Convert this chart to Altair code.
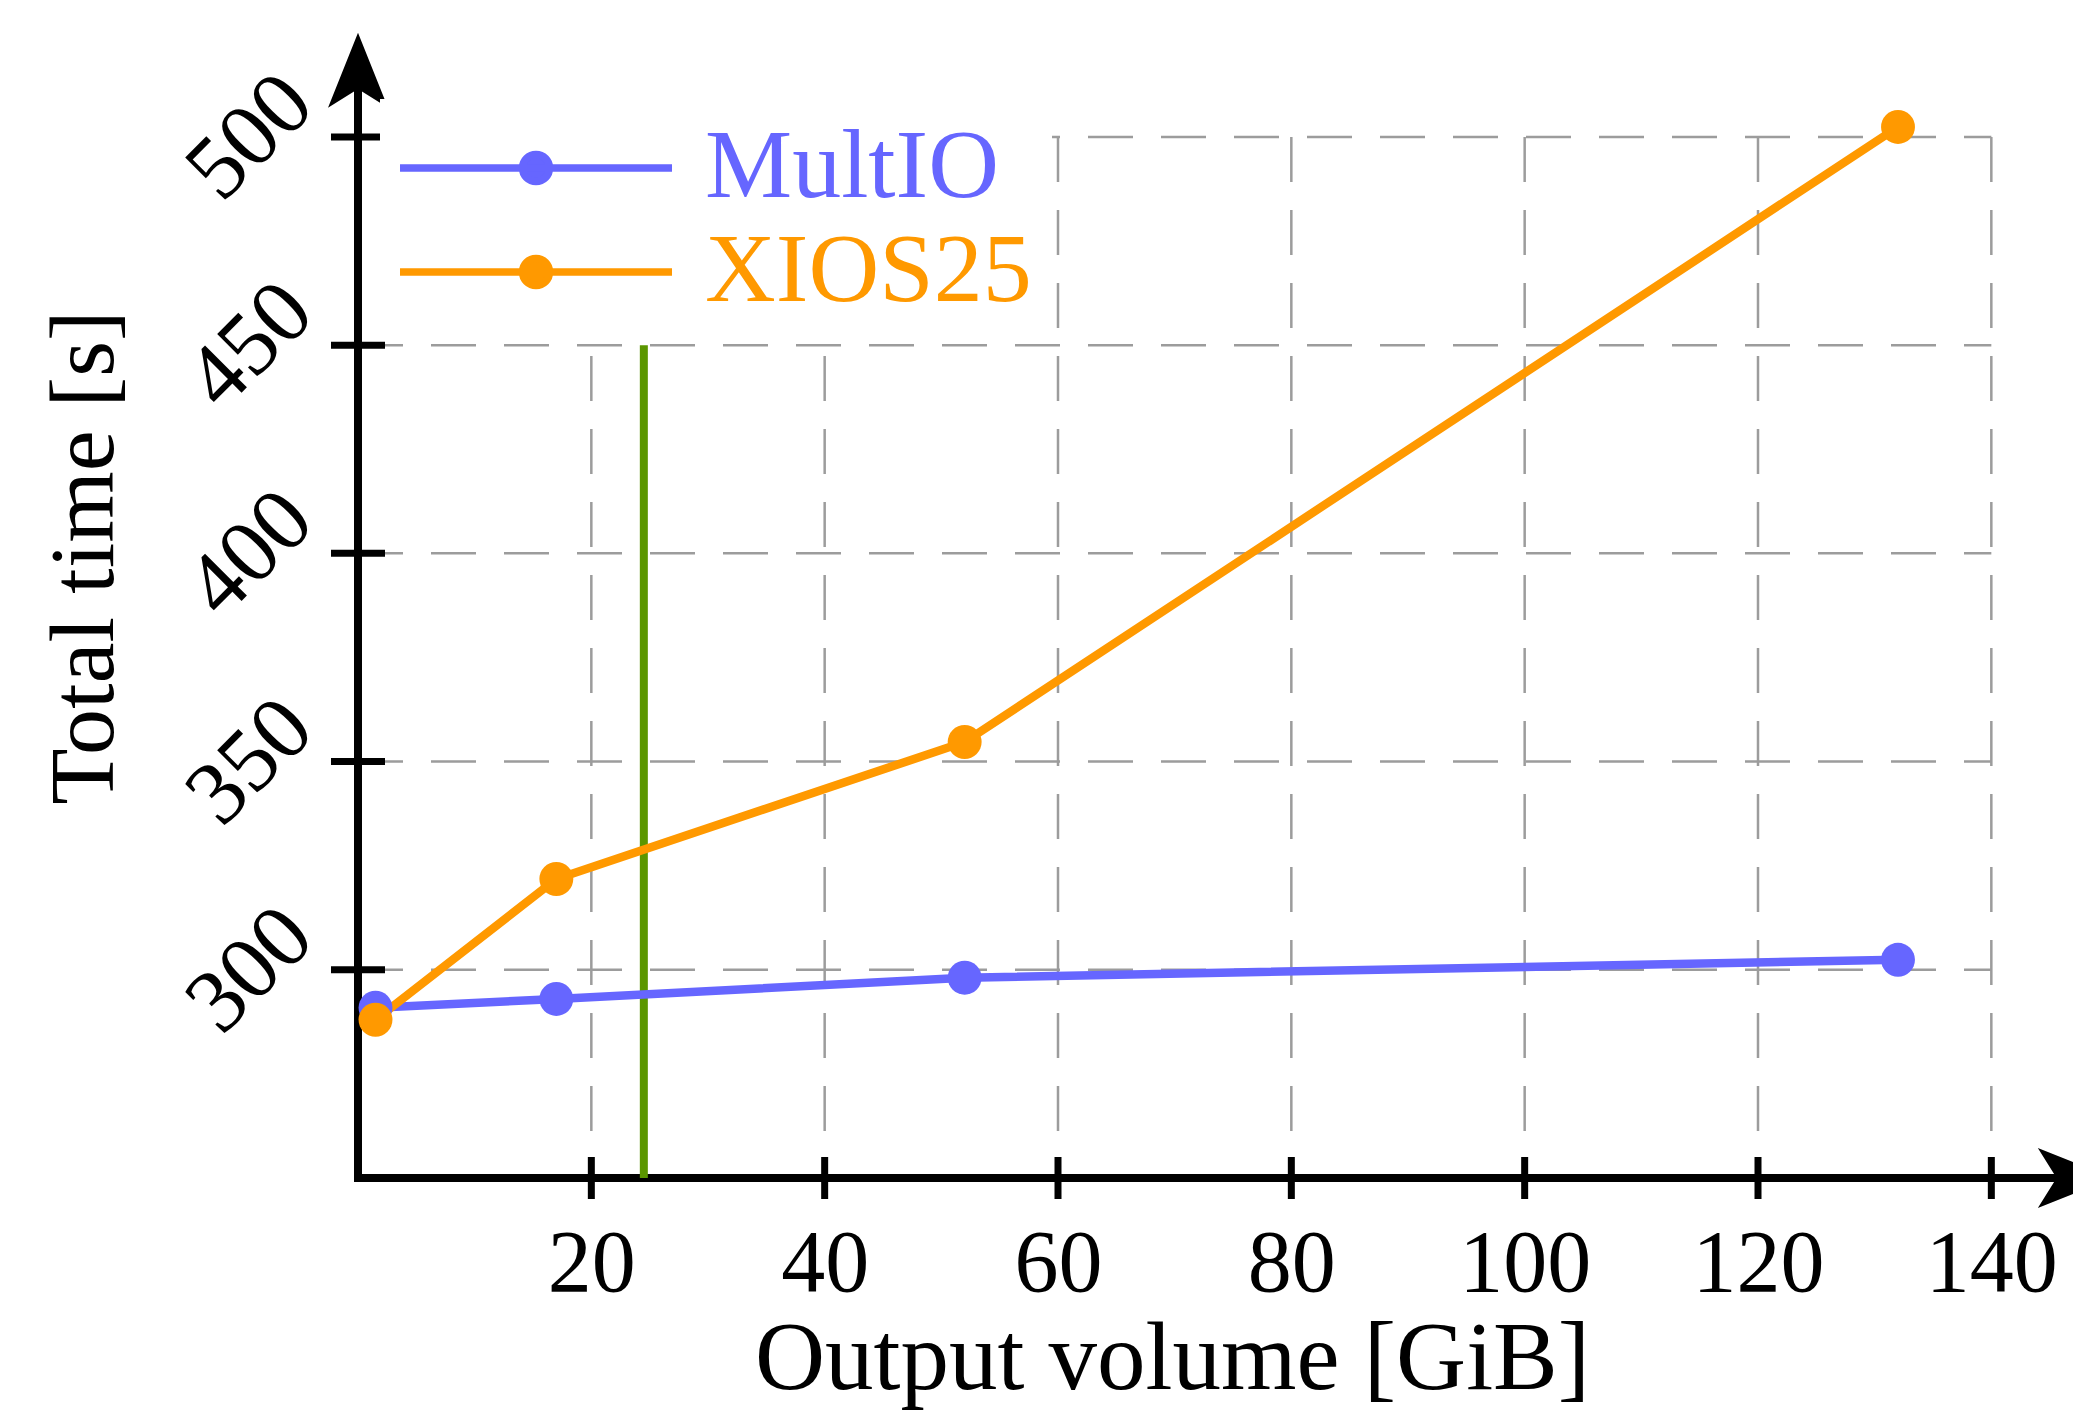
import altair as alt
import pandas as pd

# ---------------- data ----------------
VOLUME_GIB = [1.5, 17, 52, 132]
MULTIO_S = [290.9, 293.0, 298.1, 302.4]
XIOS25_S = [288.0, 321.8, 354.7, 502.4]
SERIES = ["MultIO", "XIOS25"]
SERIES_COLORS = ["#6666ff", "#ff9900"]
X_TICKS = [20, 40, 60, 80, 100, 120, 140]
Y_TICKS = [300, 350, 400, 450, 500]
THRESHOLD_X = 24.5
THRESHOLD_TOP = 450
X_TITLE = "Output volume [GiB]"
Y_TITLE = "Total time [s]"

X_DOMAIN = [0, 147]
Y_DOMAIN = [250, 524]
X_ARROW = 147.2
Y_ARROW = 516

# ---------------- style ----------------
FONT = "Liberation Serif"
GRID_COLOR = "#9c9c9c"
GREEN = "#5b9600"
AXIS_W = 8

LEG_FONT = 98
SYM_R = 17.0
LINE_LEN = 272.0
DOT_R = 13.5
half = LEG_FONT / 2.0
l = -half / SYM_R
r = (LINE_LEN - half) / SYM_R
cx = (LINE_LEN / 2 - half) / SYM_R
rr = DOT_R / SYM_R
LEGEND_PATH = (
    f"M{l:.3f},0L{r:.3f},0"
    f"M{cx + rr:.3f},0A{rr:.3f},{rr:.3f} 0 1,1 {cx - rr:.3f},0"
    f"A{rr:.3f},{rr:.3f} 0 1,1 {cx + rr:.3f},0Z"
)
ARROW_UP = "M0,-1L0.8,1L0,0.5L-0.8,1Z"
ARROW_RIGHT = "M1,0L-1,0.8L-0.5,0L-1,-0.8Z"

xs = alt.Scale(domain=X_DOMAIN, nice=False, zero=False)
ys = alt.Scale(domain=Y_DOMAIN, nice=False, zero=False)
cs = alt.Scale(domain=SERIES, range=SERIES_COLORS)

x_axis = alt.Axis(
    values=X_TICKS, title=X_TITLE, grid=False, domain=False, ticks=False, tickSize=0,
    labelFont=FONT, labelFontSize=88, labelColor="black", labelPadding=112,
    labelBaseline="alphabetic", labelAlign="center", labelFlush=False, labelOverlap=False,
    titleFont=FONT, titleFontSize=97, titleFontWeight="normal", titleColor="black",
    titleX=814, titleY=210, titleBaseline="alphabetic", titleAlign="center",
)
y_axis = alt.Axis(
    values=Y_TICKS, title=Y_TITLE, grid=False, domain=False, ticks=False, tickSize=0,
    labelFont=FONT, labelFontSize=90, labelColor="black", labelPadding=108,
    labelAngle=315, labelAlign="center", labelBaseline="middle", labelOverlap=False,
    labelFlush=False,
    titleFont=FONT, titleFontSize=92, titleFontWeight="normal", titleColor="black",
    titleAngle=270, titleX=-246, titleY=520, titleBaseline="alphabetic", titleAlign="center",
)


def X(f):
    return alt.X(f, type="quantitative", scale=xs, axis=x_axis)


def Y(f):
    return alt.Y(f, type="quantitative", scale=ys, axis=y_axis)


legend = alt.Legend(
    title=None, orient="none", legendX=22, legendY=62, direction="vertical",
    padding=20, fillColor="white", symbolType=LEGEND_PATH, symbolSize=(2 * SYM_R) ** 2,
    symbolStrokeWidth=7.5, labelFont=FONT, labelFontSize=LEG_FONT, labelOffset=207,
    labelLimit=1000, rowPadding=6,
    labelColor={"expr": f"datum.label == '{SERIES[0]}' ? '{SERIES_COLORS[0]}' : '{SERIES_COLORS[1]}'"},
)

series_df = pd.DataFrame({
    "volume": VOLUME_GIB + VOLUME_GIB,
    "time": MULTIO_S + XIOS25_S,
    "series": [SERIES[0]] * len(VOLUME_GIB) + [SERIES[1]] * len(VOLUME_GIB),
})
vgrid_df = pd.DataFrame({"x": X_TICKS, "top": Y_TICKS[-1], "bottom": Y_DOMAIN[0]})
hgrid_df = pd.DataFrame({"y": Y_TICKS, "left": X_DOMAIN[0], "right": X_TICKS[-1]})
thr_df = pd.DataFrame({"x": [THRESHOLD_X], "bottom": [Y_DOMAIN[0]], "top": [THRESHOLD_TOP]})
xline_df = pd.DataFrame({"start": [X_DOMAIN[0]], "end": [X_DOMAIN[1]], "y": [Y_DOMAIN[0]]})
yline_df = pd.DataFrame({"x": [X_DOMAIN[0]], "start": [Y_DOMAIN[0]], "end": [Y_ARROW]})
xtick_df = pd.DataFrame({"x": X_TICKS, "y": Y_DOMAIN[0]})
ytick_df = pd.DataFrame({"x": X_DOMAIN[0], "y": Y_TICKS})
xarrow_df = pd.DataFrame({"x": [X_ARROW], "y": [Y_DOMAIN[0]]})
yarrow_df = pd.DataFrame({"x": [X_DOMAIN[0]], "y": [Y_ARROW]})

vgrid = alt.Chart(vgrid_df).mark_rule(
    color=GRID_COLOR, strokeWidth=2.5, strokeDash=[45, 28]
).encode(x=X("x"), y=Y("top"), y2="bottom")
hgrid = alt.Chart(hgrid_df).mark_rule(
    color=GRID_COLOR, strokeWidth=2.5, strokeDash=[45, 28]
).encode(x=X("left"), x2="right", y=Y("y"))

xline = alt.Chart(xline_df).mark_rule(color="black", strokeWidth=AXIS_W, strokeCap="square").encode(
    x=X("start"), x2="end", y=Y("y"))
yline = alt.Chart(yline_df).mark_rule(color="black", strokeWidth=AXIS_W, strokeCap="square").encode(
    x=X("x"), y=Y("start"), y2="end")
xticks = alt.Chart(xtick_df).mark_tick(color="black", orient="vertical", size=42, thickness=7, opacity=1).encode(
    x=X("x"), y=Y("y"))
yticks = alt.Chart(ytick_df).mark_tick(color="black", orient="horizontal", size=54, thickness=7, opacity=1).encode(
    x=X("x"), y=Y("y"))
xarrow = alt.Chart(xarrow_df).mark_point(shape=ARROW_RIGHT, size=5625, filled=True, color="black", opacity=1).encode(
    x=X("x"), y=Y("y"))
yarrow = alt.Chart(yarrow_df).mark_point(shape=ARROW_UP, size=5625, filled=True, color="black", opacity=1).encode(
    x=X("x"), y=Y("y"))

threshold = alt.Chart(thr_df).mark_rule(color=GREEN, strokeWidth=8).encode(
    x=X("x"), y=Y("bottom"), y2="top")

lines = alt.Chart(series_df).mark_line(strokeWidth=8.5).encode(
    x=X("volume"), y=Y("time"),
    stroke=alt.Stroke("series:N", scale=cs, legend=legend),
    order="volume:Q",
)
points = alt.Chart(series_df).mark_point(filled=True, size=1150, opacity=1).encode(
    x=X("volume"), y=Y("time"),
    fill=alt.Fill("series:N", scale=cs, legend=legend),
)

chart = alt.layer(
    vgrid, hgrid, xline, yline, xticks, yticks, xarrow, yarrow, threshold, lines, points
).properties(
    width=1715, height=1141,
    padding={"left": 350, "top": 29, "right": 0, "bottom": 235},
    autosize=alt.AutoSizeParams(type="none"),
    background="white",
).configure(font=FONT).configure_view(stroke=None)

chart.save("out.html", embed_options={"renderer": "svg", "actions": False})
